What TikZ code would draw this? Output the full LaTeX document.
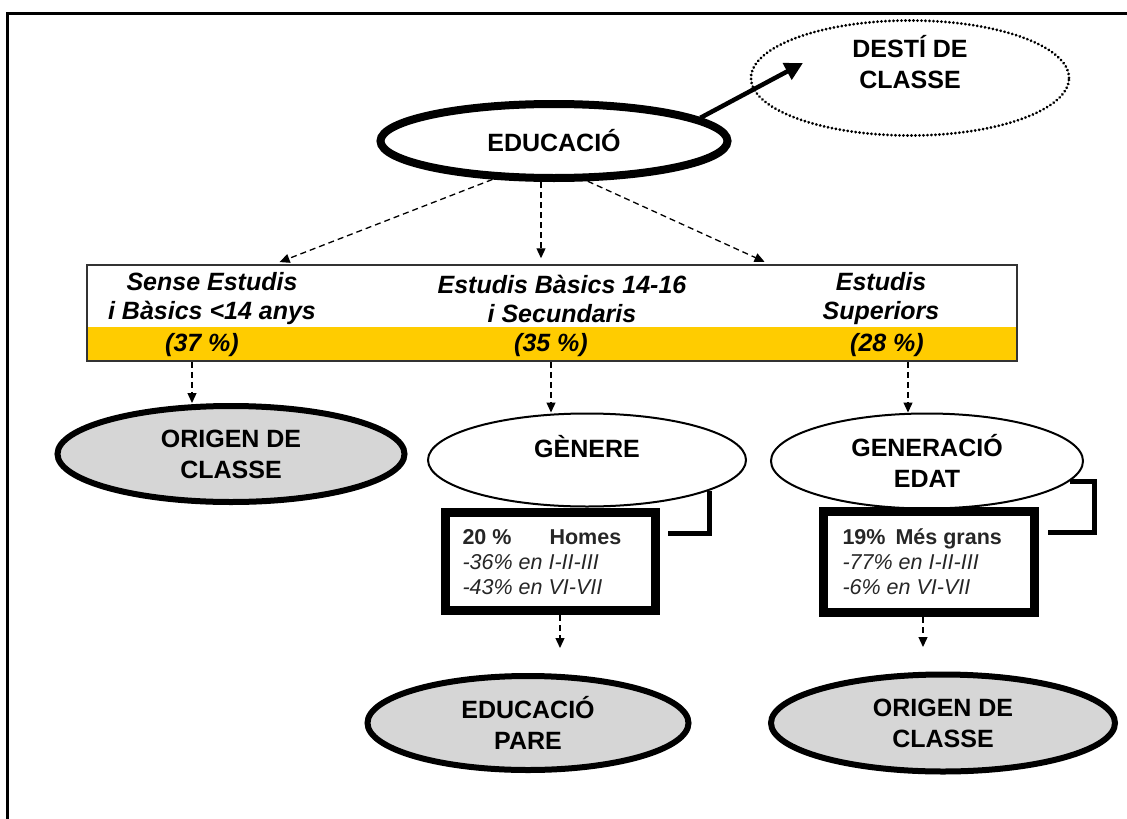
\documentclass[tikz,border=0pt]{standalone}
\usepackage{fontspec}
\setmainfont{Liberation Sans}
\usetikzlibrary{shapes.geometric,arrows.meta}
\definecolor{gold}{RGB}{255,204,0}
\definecolor{patgray}{RGB}{214,214,214}
\begin{document}
\begin{tikzpicture}[x=1pt,y=-1pt,
  big/.style={font=\bfseries\fontsize{25}{31}\selectfont, align=center},
  tbltext/.style={font=\bfseries\itshape\fontsize{25}{29}\selectfont, align=center},
  boxtext/.style={font=\fontsize{21.5}{25}\selectfont, align=left, anchor=west, text=black!85},
  darr/.style={dash pattern=on 6pt off 4pt, line width=1.3pt, -{Triangle[length=10pt,width=9pt]}},
  grayell/.style={ellipse, draw, fill=patgray, line width=6pt, inner sep=0},
  thinell/.style={ellipse, draw, line width=2pt, inner sep=0},
  thickbox/.style={draw, line width=9pt, inner sep=0},
  bracket/.style={line width=5pt}
]
\useasboundingbox (0,0) rectangle (1127,819);
% frame
\draw[line width=3pt] (7,819) -- (7,13) -- (1127,13);

% top ellipses
\node[ellipse, draw, line width=3pt, dash pattern=on 0.1pt off 3.9pt, line cap=round,
      minimum width=318pt, minimum height=115pt, inner sep=0] (desti) at (910,78) {};
\node[big] (destitxt) at (910,62) {DESTÍ DE\\CLASSE};
\node[ellipse, draw, line width=8pt, minimum width=347pt, minimum height=74pt, inner sep=0, big] (edu) at (554,141) {EDUCACIÓ};
\coordinate (dtip) at (803,63);
\draw[line width=4.5pt, -{Triangle[length=18pt,width=18pt]}] (edu.9) -- (dtip);

% table
\node[fill=gold, minimum width=930pt, minimum height=34pt, inner sep=0] (band) at (552,344) {};
\node[draw=black!80, line width=1.5pt, minimum width=930pt, minimum height=96pt, inner sep=0] (tbl) at (552,313) {};
\node[tbltext] (c1) at (212,299) {Sense Estudis\\i Bàsics <14 anys};
\node[tbltext] (c2) at (562,299) {Estudis Bàsics 14-16\\i Secundaris};
\node[tbltext] (c3) at (881,299) {Estudis\\Superiors};
\node[tbltext] (p1) at (202,345) {(37 \%)};
\node[tbltext] (p2) at (551,345) {(35 \%)};
\node[tbltext] (p3) at (887,345) {(28 \%)};

\coordinate (t1) at (274,0);
\coordinate (t2) at (541,0);
\coordinate (t3) at (770,0);
\draw[darr, shorten >=6pt] (edu.212) -- (tbl.north -| t1);
\draw[darr, shorten >=6pt] (edu.south -| t2) -- (tbl.north -| t2);
\draw[darr, shorten >=6pt] (edu.310) -- (tbl.north -| t3);

% middle row
\node[grayell, minimum width=347pt, minimum height=96pt, big] (o1) at (231,454) {ORIGEN DE\\CLASSE};
\node[thinell, minimum width=318pt, minimum height=93pt] (gen) at (587,460) {};
\node[big] (gentxt) at (587,447) {GÈNERE};
\node[thinell, minimum width=312pt, minimum height=95pt, big] (gener) at (927,461) {GENERACIÓ\\EDAT};

\coordinate (a1) at (192,0);
\coordinate (a2) at (551,0);
\coordinate (a3) at (908,0);
\draw[darr] (tbl.south -| a1) -- (o1.north -| a1);
\draw[darr] (tbl.south -| a2) -- (gen.north -| a2);
\draw[darr] (tbl.south -| a3) -- (gener.north -| a3);

% boxes
\node[thickbox, minimum width=210pt, minimum height=98pt] (homes) at (550.5,561.5) {};
\node[boxtext] (homestxt) at (459,562) {\textbf{20 \%\hspace{38pt}Homes}\\\textit{-36\% en I-II-III}\\\textit{-43\% en VI-VII}};
\node[thickbox, minimum width=211pt, minimum height=101pt] (mes) at (929,562) {};
\node[boxtext] (mestxt) at (839,562) {\textbf{19\%\hspace{10pt}Més grans}\\\textit{-77\% en I-II-III}\\\textit{-6\% en VI-VII}};

\coordinate (hb) at (668,533);
\draw[bracket] (gen.-14.5) |- (hb);
\coordinate (mb) at (1048,532);
\draw[bracket] (gener.-8.6) -- ++(25,0) |- (mb);

% bottom row
\node[grayell, minimum width=321pt, minimum height=94pt, big] (epare) at (528,723) {EDUCACIÓ\\PARE};
\node[grayell, minimum width=344pt, minimum height=97pt, big] (o2) at (943,723) {ORIGEN DE\\CLASSE};

\coordinate (b1) at (560,648);
\coordinate (b2) at (923,647);
\draw[darr] (homes.south -| b1) -- (b1);
\draw[darr] (mes.south -| b2) -- (b2);
\end{tikzpicture}
\end{document}
